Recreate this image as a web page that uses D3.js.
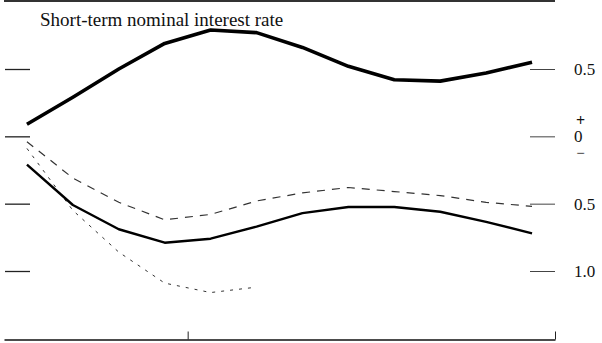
<!DOCTYPE html>
<html>
<head>
<meta charset="utf-8">
<script src="https://cdn.jsdelivr.net/npm/d3@7"></script>
<style>
  html, body { margin: 0; padding: 0; background: #fff; }
  svg { display: block; }
</style>
</head>
<body>
<svg id="chart" width="602" height="343"></svg>
<script>
// Quarters after the shock (0..11)
const quarters = [0, 1, 2, 3, 4, 5, 6, 7, 8, 9, 10, 11];

// Upper panel: short-term nominal interest rate response
const rateResponse = [0.09, 0.29, 0.50, 0.69, 0.79, 0.77, 0.66, 0.52, 0.42, 0.41, 0.47, 0.55];

// Lower panel: central response with its upper and lower bands
const outputResponse = [-0.21, -0.51, -0.69, -0.79, -0.76, -0.67, -0.57, -0.525, -0.525, -0.56, -0.635, -0.72];
const upperBand = [-0.04, -0.31, -0.49, -0.62, -0.58, -0.48, -0.42, -0.38, -0.41, -0.44, -0.49, -0.52];
const lowerBand = [-0.09, -0.55, -0.86, -1.09, -1.16, -1.12];

// Axis ticks and their printed labels
const yTicks = [0.5, 0, -0.5, -1.0];
const yTickLabels = ["0.5", "0", "0.5", "1.0"];
const xTicks = [3.5, 11.5];
const title = "Short-term nominal interest rate";

const serif = "'Liberation Serif', 'Times New Roman', 'DejaVu Serif', serif";

const svg = d3.select("#chart");

const x = d3.scaleLinear().domain([-0.5, 11.5]).range([4, 555]);
const y = d3.scaleLinear().domain([-1.0, 0.5]).range([271, 69]);

// Frame: top rule
svg.append("line")
  .attr("x1", x(-0.5)).attr("x2", x(11.5))
  .attr("y1", 1).attr("y2", 1)
  .attr("stroke", "#333").attr("stroke-width", 2);

// Bottom axis with inward ticks
const bottom = svg.append("g")
  .attr("transform", "translate(0,339.5)")
  .call(d3.axisBottom(x).tickValues(xTicks).tickSize(-8).tickSizeOuter(0).tickFormat(""));
bottom.select(".domain").attr("stroke", "#111").attr("stroke-width", 1.6);
bottom.selectAll(".tick line").attr("stroke", "#222").attr("stroke-width", 1);

// Left ticks
const left = svg.append("g")
  .attr("transform", "translate(30,0)")
  .call(d3.axisLeft(y).tickValues(yTicks).tickSize(25).tickFormat(""));
left.select(".domain").remove();
left.selectAll(".tick line").attr("stroke", "#222").attr("stroke-width", 1.3);

// Right ticks with labels
const right = svg.append("g")
  .attr("transform", "translate(530,0)")
  .call(d3.axisRight(y).tickValues(yTicks).tickSize(25).tickPadding(19)
    .tickFormat((d, i) => yTickLabels[i]));
right.attr("font-family", serif).attr("font-size", 17);
right.select(".domain").remove();
right.selectAll(".tick line").attr("stroke", "#444").attr("stroke-width", 1);
right.selectAll(".tick text")
  .attr("font-family", serif)
  .attr("font-size", 17)
  .attr("fill", "#111");

// Sign markers around zero
svg.append("text").attr("x", 580.5).attr("y", y(0) - 10).attr("text-anchor", "middle")
  .attr("font-family", serif).attr("font-size", 16).attr("font-weight", "bold")
  .attr("fill", "#111").text("+");
svg.append("text").attr("x", 580.5).attr("y", y(0) + 22).attr("text-anchor", "middle")
  .attr("font-family", serif).attr("font-size", 15)
  .attr("fill", "#111").text("\u2212");

// Title
svg.append("text")
  .attr("x", 40).attr("y", 26)
  .attr("font-family", serif)
  .attr("font-size", 19)
  .attr("fill", "#111")
  .text(title);

const line = d3.line().x((d, i) => x(quarters[i])).y(d => y(d));

// Lower bands (dashed)
svg.append("path").datum(upperBand)
  .attr("d", line).attr("fill", "none")
  .attr("stroke", "#333").attr("stroke-width", 1.2)
  .attr("stroke-dasharray", "8,7");
svg.append("path").datum(lowerBand)
  .attr("d", line).attr("fill", "none")
  .attr("stroke", "#333").attr("stroke-width", 1)
  .attr("stroke-dasharray", "3,6");

// Lower central response
svg.append("path").datum(outputResponse)
  .attr("d", line).attr("fill", "none")
  .attr("stroke", "#000").attr("stroke-width", 2.4)
  .attr("stroke-linejoin", "round");

// Interest rate response
svg.append("path").datum(rateResponse)
  .attr("d", line).attr("fill", "none")
  .attr("stroke", "#000").attr("stroke-width", 3.6)
  .attr("stroke-linejoin", "round");
</script>
</body>
</html>
